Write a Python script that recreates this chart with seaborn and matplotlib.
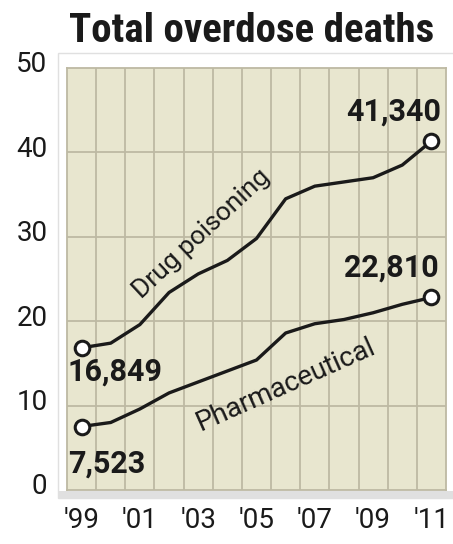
import matplotlib
matplotlib.use("Agg")
import matplotlib.pyplot as plt
import matplotlib.patches as mpatches
import matplotlib.transforms as mtransforms
from matplotlib import font_manager as fm
import seaborn as sns
import pandas as pd
import numpy as np

# ---- data ----
years = [1999, 2000, 2001, 2002, 2003, 2004, 2005, 2006, 2007, 2008, 2009, 2010, 2011]
drug_poisoning = [16.849, 17.4, 19.6, 23.4, 25.6, 27.2, 29.8, 34.5, 36.0, 36.5, 37.0, 38.5, 41.340]
pharmaceutical = [7.523, 8.0, 9.6, 11.5, 12.8, 14.1, 15.4, 18.6, 19.7, 20.2, 21.0, 22.0, 22.810]
series_names = ["Drug poisoning", "Pharmaceutical"]
end_labels = {"Drug poisoning": ("16,849", "41,340"), "Pharmaceutical": ("7,523", "22,810")}
x_tick_years = [1999, 2001, 2003, 2005, 2007, 2009, 2011]
x_tick_labels = ["'99", "'01", "'03", "'05", "'07", "'09", "'11"]
y_ticks = [0, 10, 20, 30, 40, 50]
title = "Total overdose deaths"

df = pd.DataFrame({
    "year": years * 2,
    "deaths": drug_poisoning + pharmaceutical,
    "series": [series_names[0]] * len(years) + [series_names[1]] * len(years),
})

sns.set_theme(style="white")

names = {f.name for f in fm.fontManager.ttflist}
COND = ["Roboto Condensed", "DejaVu Sans"] if "Roboto Condensed" in names else ["DejaVu Sans"]
REG = ["Roboto", "DejaVu Sans"]
plt.rcParams["font.family"] = REG

W, H = 453, 544
fig = plt.figure(figsize=(W / 100, H / 100), dpi=100)
fig.patch.set_facecolor("white")

def fx(px):
    return px / W

def fy(py):
    return 1 - py / H

# frame with shadow
frame = mpatches.Rectangle((fx(58), fy(498)), fx(453 - 58) + 0.01, fy(53) - fy(498),
                           transform=fig.transFigure, facecolor="white",
                           edgecolor="#e0e0e0", linewidth=1.0, zorder=-2)
fig.patches.append(frame)
shadow = mpatches.Rectangle((fx(58), fy(498)), fx(453 - 58) + 0.01, fy(491) - fy(498),
                            transform=fig.transFigure, facecolor="#e0e0e0",
                            edgecolor="none", zorder=-1)
fig.patches.append(shadow)

ax_left, ax_right, ax_top, ax_bottom = 67, 446, 68, 490
ax = fig.add_axes([fx(ax_left), fy(ax_bottom), fx(ax_right - ax_left), fy(ax_top) - fy(ax_bottom)])
ax.set_zorder(2)
ax.set_facecolor("#e8e6cf")

sns.lineplot(data=df, x="year", y="deaths", units="series", estimator=None,
             color="#1a1a1a", linewidth=2.4, ax=ax, legend=False, zorder=3)

ends = df[df["year"].isin([years[0], years[-1]])]
sns.scatterplot(data=ends, x="year", y="deaths", s=110, color="white",
                edgecolor="#1a1a1a", linewidth=2.2, ax=ax, legend=False, zorder=4)

ax.set_xlim(years[0] - 0.5, years[-1] + 0.5)
ax.set_ylim(0, 50)

gc = "#bdb9a3"
for xv in np.arange(years[0] + 0.5, years[-1] + 0.5, 1.0):
    ax.axvline(xv, color=gc, linewidth=1.3, zorder=1)
for yv in y_ticks[1:-1]:
    ax.axhline(yv, color=gc, linewidth=1.3, zorder=1)
for sp in ax.spines.values():
    sp.set_color(gc)
    sp.set_linewidth(1.3)

ax.set_xticks(x_tick_years)
ax.set_xticklabels(x_tick_labels)
ax.set_yticks(y_ticks)
ax.set_yticklabels([str(v) for v in y_ticks])
ax.tick_params(axis="both", length=0, labelsize=20, colors="#1a1a1a")
ax.tick_params(axis="y", pad=14)
ax.tick_params(axis="x", pad=12)
for lab in ax.get_yticklabels():
    lab.set_transform(lab.get_transform() + mtransforms.ScaledTranslation(0, 6 / 100, fig.dpi_scale_trans))
ax.set_xlabel("")
ax.set_ylabel("")

bold = dict(fontsize=22, fontweight="bold", color="#1a1a1a", family=REG)
ax.text(years[0] - 0.5, drug_poisoning[0] - 2.8, end_labels["Drug poisoning"][0], ha="left", va="center", **bold)
ax.text(years[0] - 0.45, pharmaceutical[0] - 4.4, end_labels["Pharmaceutical"][0], ha="left", va="center", **bold)
ax.text(years[-1] + 0.32, drug_poisoning[-1] + 3.5, end_labels["Drug poisoning"][1], ha="right", va="center", **bold)
ax.text(years[-1] + 0.25, pharmaceutical[-1] + 3.6, end_labels["Pharmaceutical"][1], ha="right", va="center", **bold)

ax.text(2003.1, 30.3, series_names[0], rotation=43, ha="center", va="center",
        fontsize=19, color="#1a1a1a", family=REG, rotation_mode="anchor")
ax.text(2006.0, 12.5, series_names[1], rotation=24, ha="center", va="center",
        fontsize=20, color="#1a1a1a", family=REG, rotation_mode="anchor")

fig.text(fx(252), fy(31), title, ha="center", va="center", fontsize=29.5,
         fontweight="bold", color="#1a1a1a", family=COND)

fig.savefig("out.png", dpi=100, facecolor="white")
